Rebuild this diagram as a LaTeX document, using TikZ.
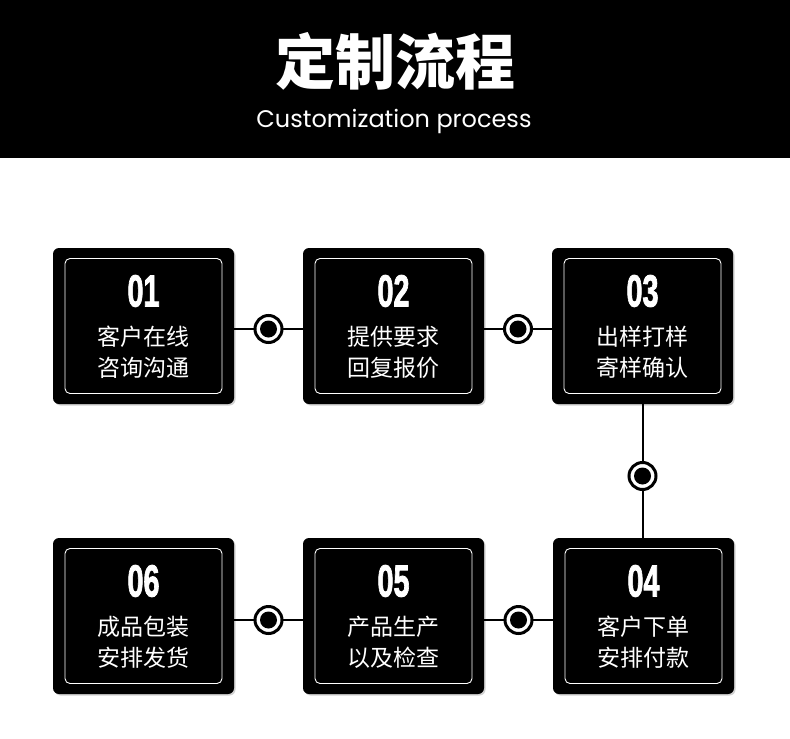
\documentclass[tikz,border=0pt]{standalone}
\usepackage{fontspec}
\setmainfont{Noto Sans CJK SC}
\newfontfamily\cjk{Noto Sans CJK SC}
\newfontfamily\latin{Poppins}
\newfontfamily\numfont{Liberation Sans}[BoldFeatures={FakeBold=2.2}]
\usetikzlibrary{shadows}
\begin{document}
\begin{tikzpicture}[x=1pt,y=-1pt,
  outerbox/.style={rectangle, rounded corners=6pt, fill=black, minimum width=181pt, minimum height=156pt, inner sep=0pt,
    drop shadow={shadow xshift=1.5pt, shadow yshift=-1.5pt, opacity=0.18, fill=black}},
  innerbox/.style={rectangle, rounded corners=5pt, draw=white, line width=0.9pt, minimum width=157pt, minimum height=135pt, inner sep=0pt},
  numlabel/.style={text=white, inner sep=0pt, font=\numfont\bfseries\fontsize{45}{45}\selectfont},
  steplabel/.style={text=white, inner sep=0pt, align=center, font=\cjk\fontsize{23}{31}\selectfont},
  conn/.style={line width=2pt, draw=black},
  ring/.style={circle, draw=black, line width=3pt, fill=white, minimum size=27pt, inner sep=0pt},
  titlelabel/.style={text=white, inner sep=0pt, font=\cjk\bfseries\fontsize{60}{60}\selectfont},
  sublabel/.style={text=white, inner sep=0pt, font=\latin\fontsize{24}{24}\selectfont}
]
\useasboundingbox (0,0) rectangle (790,739);
\fill[white] (0,0) rectangle (790,739);
\fill[black] (0,0) rectangle (790,158);
\node[titlelabel] (title) at (395,61) {定制流程};
\node[sublabel] (sub) at (394,121) {Customization process};

% boxes
\node[outerbox] (b1) at (143.5,326) {};
\node[outerbox] (b2) at (393.5,326) {};
\node[outerbox] (b3) at (642.5,326) {};
\node[outerbox] (b4) at (643.5,616) {};
\node[outerbox] (b5) at (393.5,616) {};
\node[outerbox] (b6) at (143.5,616) {};

\foreach \b in {b1,b2,b3,b4,b5,b6} {
  \node[innerbox] (i\b) at (\b.center) {};
}

% connectors
\coordinate (c12) at (268.5,329);
\coordinate (c23) at (518,329);
\coordinate (c34) at (642.5,476);
\coordinate (c45) at (518.5,620);
\coordinate (c56) at (268.5,620);
\draw[conn] ([yshift=-3pt]b1.east) -- ([yshift=-3pt]b2.west);
\draw[conn] ([yshift=-3pt]b2.east) -- ([yshift=-3pt]b3.west);
\draw[conn] (b3.south) -- (b3.south |- b4.north);
\draw[conn] ([yshift=-4pt]b4.west) -- ([yshift=-4pt]b5.east);
\draw[conn] ([yshift=-4pt]b5.west) -- ([yshift=-4pt]b6.east);
\foreach \c in {c12,c23,c34,c45,c56} {
  \node[ring] (r\c) at (\c) {};
  \fill[black] (r\c.center) circle (8.5);
}

% labels
\newcommand\stepcontent[4]{%
  \node[numlabel] (n#1) at ([yshift=35pt]#1.center) {\scalebox{0.64}[1]{#2}};
  \node[steplabel] (t#1) at ([yshift=-26pt]#1.center) {#3\\#4};
}
\stepcontent{b1}{01}{客户在线}{咨询沟通}
\stepcontent{b2}{02}{提供要求}{回复报价}
\stepcontent{b3}{03}{出样打样}{寄样确认}
\stepcontent{b4}{04}{客户下单}{安排付款}
\stepcontent{b5}{05}{产品生产}{以及检查}
\stepcontent{b6}{06}{成品包装}{安排发货}
\end{tikzpicture}
\end{document}
